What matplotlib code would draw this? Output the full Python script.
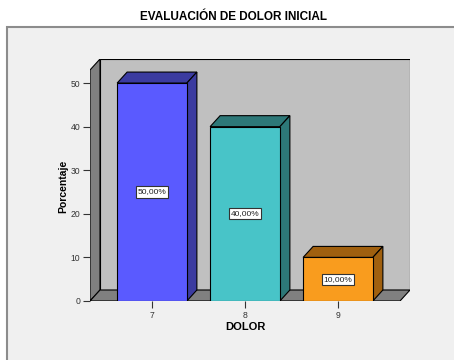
import numpy as np
import matplotlib.pyplot as plt
from matplotlib.patches import Polygon, Rectangle

plt.rcParams['font.family'] = ['Liberation Sans', 'DejaVu Sans']

categorias = ['7', '8', '9']
porcentajes = [50.0, 40.0, 10.0]
yticks = [0, 10, 20, 30, 40, 50]
caras = ['#5a5aff', '#48c4c8', '#f99c1e']
sombras = ['#3b3ba0', '#2d7878', '#a0600f']

W, H = 454, 360
fig = plt.figure(figsize=(W / 100, H / 100), dpi=100)
fig.patch.set_facecolor('white')

# marco gris claro del grafico
fig.patches.append(Rectangle((7 / W, -0.05), 1.1, 1 - 27 / H + 0.05,
                             transform=fig.transFigure, facecolor='#f0f0f0',
                             edgecolor='#8c8c8c', linewidth=1.5, zorder=-5))

ax = fig.add_axes([90 / W, 1 - 301 / H, 320 / W, 242 / H])
ax.set_facecolor('none')

ancho = 0.75
x0, x1 = -0.6667, 2.6667
dx, dy = 10 / 93, 11 / 4.36
ytop = 53.0

ax.set_xlim(x0, x1 + dx)
ax.set_ylim(0, ytop + dy)
for s in ax.spines.values():
    s.set_visible(False)

def poly(pts, color, z=1):
    ax.add_patch(Polygon(pts, closed=True, facecolor=color, edgecolor='black',
                         linewidth=0.8, zorder=z))

# paredes y suelo
poly([(x0 + dx, dy), (x1 + dx, dy), (x1 + dx, ytop + dy), (x0 + dx, ytop + dy)], '#c0c0c0')
poly([(x0, 0), (x0 + dx, dy), (x0 + dx, ytop + dy), (x0, ytop)], '#808080')
poly([(x0, 0), (x1, 0), (x1 + dx, dy), (x0 + dx, dy)], '#808080')

# barras 3d
for i, v in enumerate(porcentajes):
    l, r = i - ancho / 2, i + ancho / 2
    poly([(l, v), (r, v), (r + dx, v + dy), (l + dx, v + dy)], sombras[i], 2)
    poly([(r, 0), (r + dx, dy), (r + dx, v + dy), (r, v)], sombras[i], 2)
    poly([(l, 0), (r, 0), (r, v), (l, v)], caras[i], 3)
    ax.text(i, v / 2, f'{v:.2f}%'.replace('.', ','), ha='center', va='center',
            fontsize=6, color='#222222', zorder=4,
            bbox=dict(boxstyle='square,pad=0.25', facecolor='white',
                      edgecolor='#333333', linewidth=0.8))

ax.set_xticks(range(len(categorias)))
ax.set_xticklabels(categorias)
ax.set_yticks(yticks)
ax.tick_params(length=5, width=0.8, color='#333333', labelsize=6.2,
               labelcolor='#333333', pad=2)

fig.text(233 / W, 1 - 17 / H, 'EVALUACIÓN DE DOLOR INICIAL', ha='center',
         va='center', fontsize=8.5, fontweight='bold')
fig.text(63 / W, 1 - 186 / H, 'Porcentaje', ha='center', va='center',
         rotation=90, fontsize=7.5, fontweight='bold')
fig.text(245 / W, 1 - 327 / H, 'DOLOR', ha='center', va='center',
         fontsize=8, fontweight='bold')

fig.savefig('out.png', dpi=100)
